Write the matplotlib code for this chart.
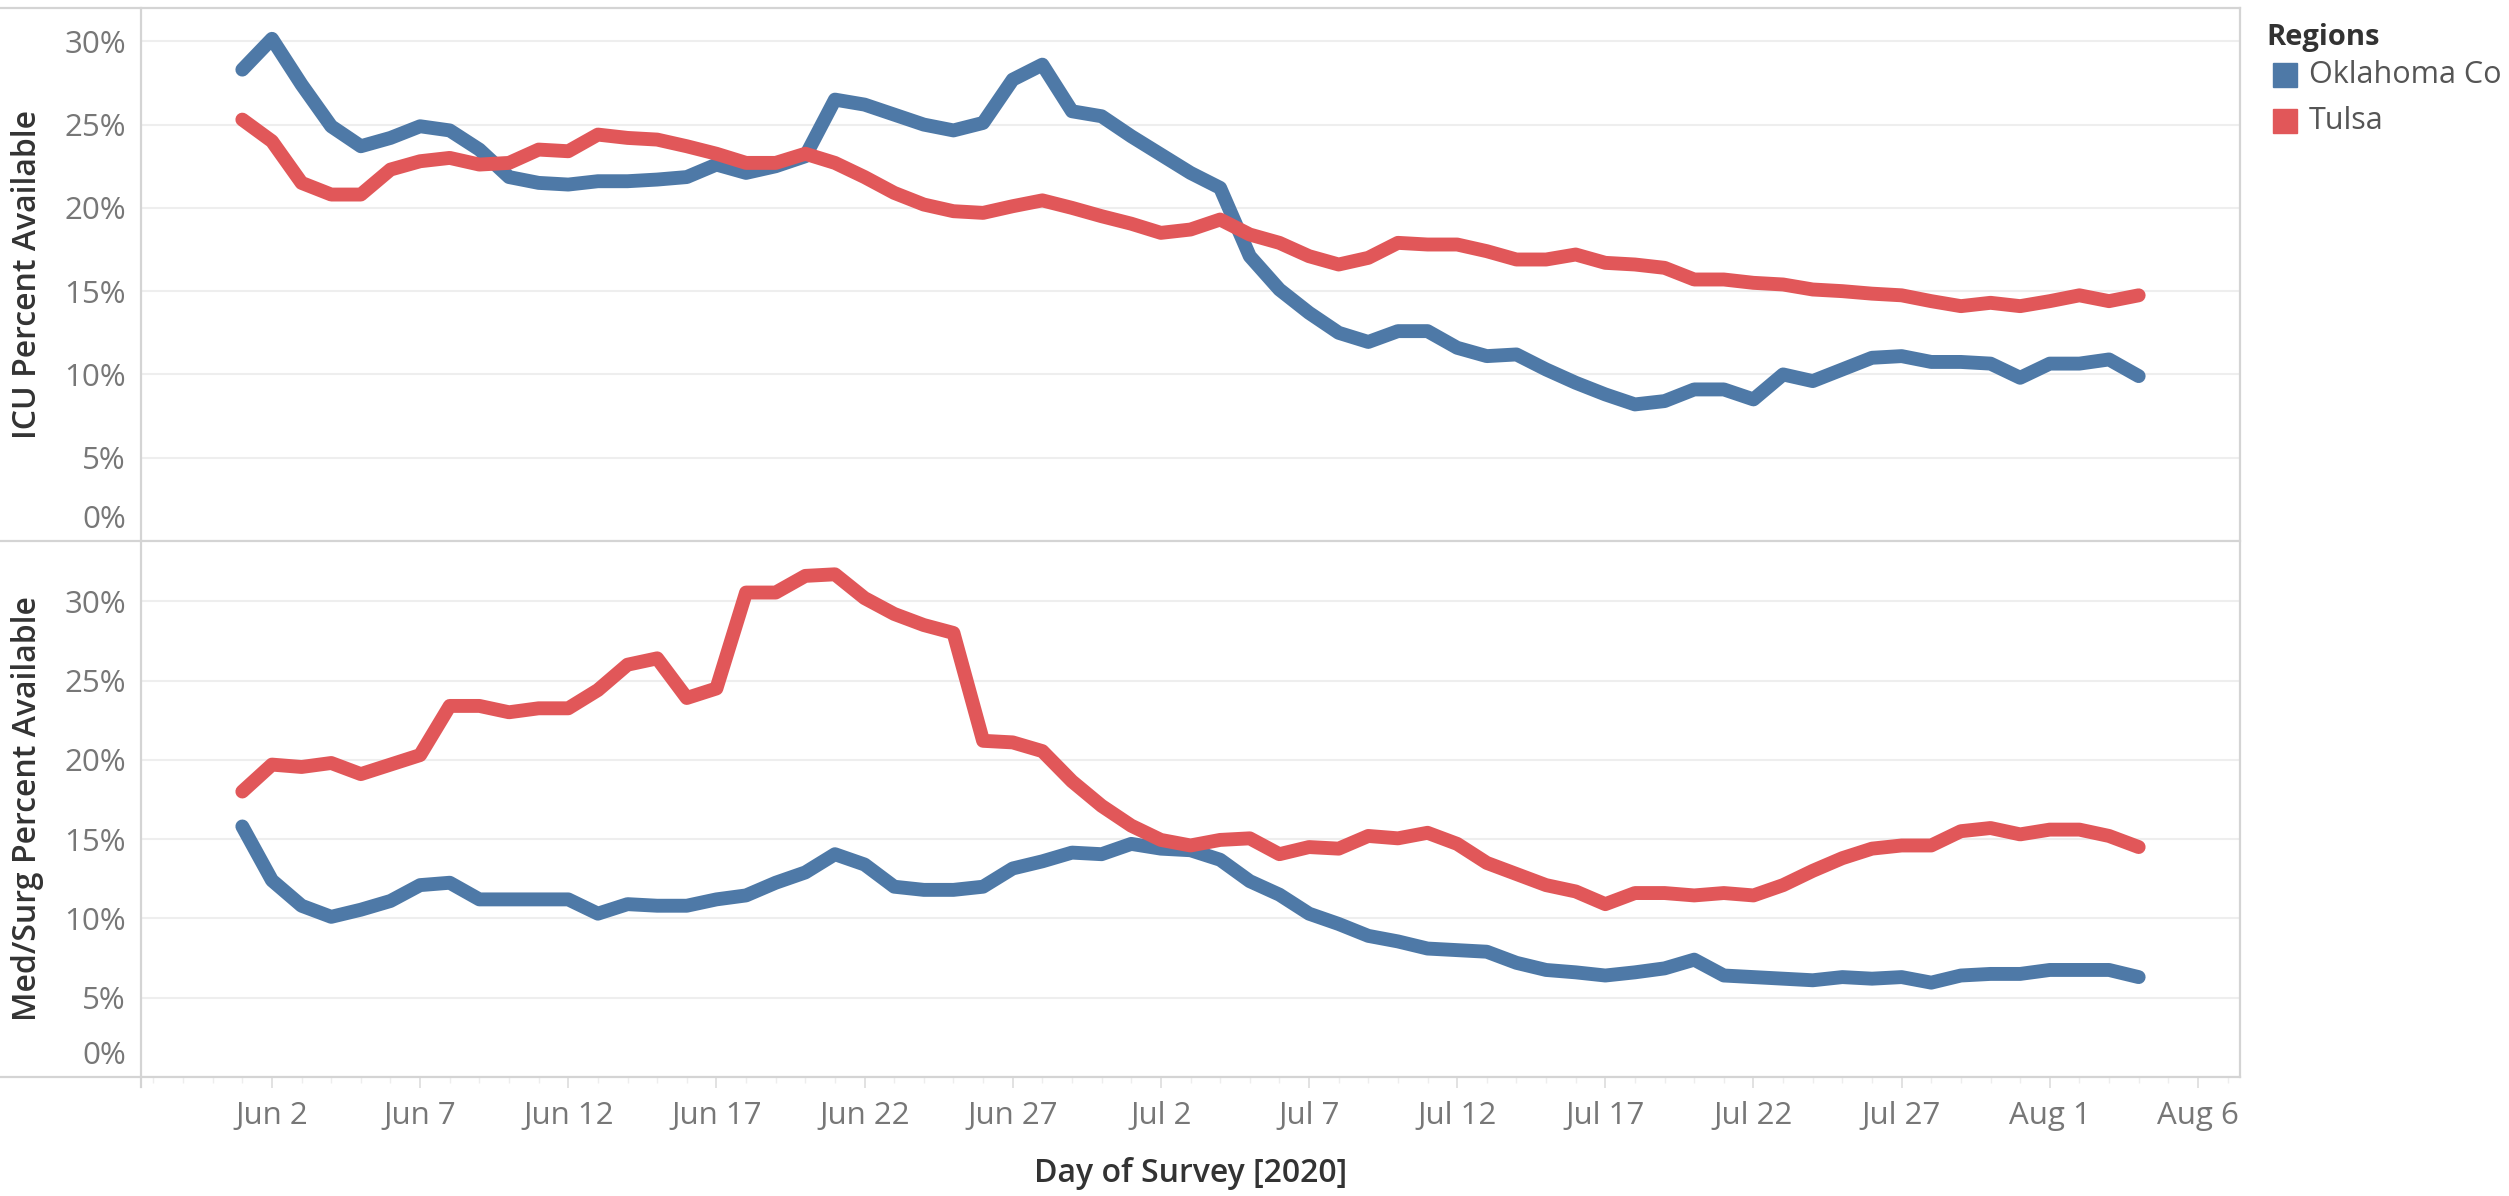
import numpy as np
import pandas as pd
import matplotlib
matplotlib.use("Agg")
import matplotlib.pyplot as plt
import matplotlib.dates as mdates
import matplotlib.transforms as mtransforms
from matplotlib.lines import Line2D
from matplotlib.patches import Rectangle
from matplotlib.ticker import FuncFormatter

plt.rcParams["font.family"] = ["Open Sans", "DejaVu Sans"]

# daily survey dates, Jun 1 - Aug 4 2020
days = pd.date_range("2020-06-01", "2020-08-04", freq="D")

regions = ["Oklahoma Co", "Tulsa"]

icu_okc = [28.3, 30.15, 27.4, 24.9, 23.7, 24.2, 24.9, 24.65, 23.5, 21.85,
           21.5, 21.4, 21.6, 21.6, 21.7, 21.85, 22.6, 22.1, 22.5, 23.1,
           26.5, 26.2, 25.6, 25.0, 24.65, 25.1, 27.7, 28.6, 25.8, 25.5,
           24.3, 23.2, 22.1, 21.2, 17.1, 15.1, 13.7, 12.5, 11.95, 12.6,
           12.6, 11.6, 11.1, 11.2, 10.3, 9.5, 8.8, 8.2, 8.4, 9.1,
           9.1, 8.5, 10.0, 9.6, 10.3, 11.0, 11.1, 10.75, 10.75, 10.65,
           9.8, 10.65, 10.65, 10.9, 9.9]
icu_tulsa = [25.3, 24.0, 21.5, 20.8, 20.8, 22.3, 22.8, 23.0, 22.6, 22.7,
             23.5, 23.4, 24.4, 24.2, 24.1, 23.7, 23.25, 22.7, 22.7, 23.25,
             22.7, 21.85, 20.9, 20.2, 19.8, 19.7, 20.1, 20.45, 20.0, 19.5,
             19.05, 18.5, 18.7, 19.3, 18.4, 17.9, 17.1, 16.6, 17.0, 17.9,
             17.8, 17.8, 17.4, 16.9, 16.9, 17.2, 16.7, 16.6, 16.4, 15.7,
             15.7, 15.5, 15.4, 15.1, 15.0, 14.85, 14.75, 14.4, 14.1, 14.3,
             14.1, 14.4, 14.75, 14.4, 14.75]
medsurg_okc = [15.8, 12.4, 10.8, 10.1, 10.55, 11.1, 12.1, 12.25, 11.2, 11.2,
               11.2, 11.2, 10.3, 10.9, 10.8, 10.8, 11.2, 11.45, 12.25, 12.9,
               14.05, 13.4, 12.0, 11.8, 11.8, 12.0, 13.15, 13.6, 14.15, 14.05,
               14.7, 14.4, 14.3, 13.7, 12.35, 11.5, 10.3, 9.65, 8.9, 8.55,
               8.1, 8.0, 7.9, 7.2, 6.75, 6.6, 6.4, 6.6, 6.85, 7.4,
               6.4, 6.3, 6.2, 6.1, 6.3, 6.2, 6.3, 5.95, 6.4, 6.5,
               6.5, 6.75, 6.75, 6.75, 6.3]
medsurg_tulsa = [18.0, 19.7, 19.55, 19.8, 19.1, 19.7, 20.3, 23.4, 23.4, 23.0,
                 23.25, 23.25, 24.4, 26.0, 26.4, 23.9, 24.5, 30.55, 30.55, 31.6,
                 31.7, 30.2, 29.2, 28.5, 28.0, 21.2, 21.1, 20.55, 18.65, 17.1,
                 15.85, 14.95, 14.6, 14.95, 15.05, 14.05, 14.5, 14.4, 15.2, 15.05,
                 15.4, 14.7, 13.5, 12.8, 12.1, 11.7, 10.9, 11.6, 11.6, 11.45,
                 11.6, 11.45, 12.1, 13.0, 13.8, 14.4, 14.6, 14.6, 15.5, 15.7,
                 15.3, 15.6, 15.6, 15.2, 14.5]

colors = ["#4e79a7", "#e15759"]
border = "#d4d4d4"
tick_grey = "#777777"
W, H = 2509, 1196

fig = plt.figure(figsize=(W / 100, H / 100), dpi=100)
left, right = 141 / W, 2240 / W
y_top, y_mid, y_bot = 1 - 8 / H, 1 - 541 / H, 1 - 1077 / H

ax1 = fig.add_axes([left, y_mid, right - left, y_top - y_mid])
ax2 = fig.add_axes([left, y_bot, right - left, y_mid - y_bot])

panels = [
    (ax1, [icu_okc, icu_tulsa], "ICU Percent Available", 32.0),
    (ax2, [medsurg_okc, medsurg_tulsa], "Med/Surg Percent Available", 33.8),
]

x0 = pd.Timestamp("2020-06-02") - pd.Timedelta(days=4.42)
x1 = pd.Timestamp("2020-06-02") + pd.Timedelta(days=66.42)

for ax, series, title, ymax in panels:
    for vals, c in zip(series, colors):
        ax.plot(days, vals, color=c, lw=10, solid_joinstyle="round",
                solid_capstyle="round", zorder=3)
    ax.set_xlim(x0, x1)
    ax.set_ylim(0, ymax)
    ax.set_yticks(range(0, 31, 5))
    ax.yaxis.set_major_formatter(FuncFormatter(lambda v, p: f"{v:.0f}%"))
    ax.yaxis.grid(True, color="#eeeeee", lw=1.5, zorder=0)
    ax.tick_params(axis="y", length=0, pad=11, labelsize=22.5, labelcolor=tick_grey)
    zero = ax.get_yticklabels()[0]
    zero.set_va("bottom")
    zero.set_transform(zero.get_transform() +
                       mtransforms.ScaledTranslation(0, 4 / 72, fig.dpi_scale_trans))
    for s in ax.spines.values():
        s.set_visible(False)
    yc = (ax.get_position().y0 + ax.get_position().y1) / 2
    fig.text(28 / W, yc, title, rotation=90, ha="center", va="center",
             fontsize=23, color="#333333", fontweight=600)

ax1.tick_params(axis="x", which="both", length=0, labelbottom=False)

major = pd.date_range("2020-06-02", "2020-08-06", freq="5D")
ax2.set_xticks(major)
ax2.xaxis.set_minor_locator(mdates.DayLocator())
ax2.xaxis.set_major_formatter(
    FuncFormatter(lambda v, p: f"{mdates.num2date(v):%b} {mdates.num2date(v).day}"))
ax2.tick_params(axis="x", which="major", length=8, width=1.2, color="#dddddd",
                pad=9, labelsize=22.5, labelcolor=tick_grey)
ax2.tick_params(axis="x", which="minor", length=4, width=1, color="#eeeeee")

# Tableau-style frame lines
for y in (y_top, y_mid, y_bot):
    fig.add_artist(Line2D([0, right], [y, y], color=border, lw=1.6))
fig.add_artist(Line2D([left, left], [y_top, y_bot - 10 / H], color=border, lw=1.6))
fig.add_artist(Line2D([right, right], [y_top, y_bot], color=border, lw=1.6))

fig.text((left + right) / 2, 1 - 1173 / H, "Day of Survey [2020]", ha="center",
         va="center", fontsize=23, color="#333333", fontweight=600)

# legend
fig.text(2266 / W, 1 - 45 / H, "Regions", ha="left", va="baseline",
         fontsize=21, color="#333333", fontweight="bold")
for i, (name, c) in enumerate(zip(regions, colors)):
    yc = 75 + i * 46
    fig.add_artist(Rectangle((2273 / W, 1 - (yc + 12) / H), 24 / W, 24 / H,
                             transform=fig.transFigure, color=c))
    fig.text(2309 / W, 1 - yc / H, name, ha="left", va="center",
             fontsize=22, color="#555555")

fig.savefig("out.png", dpi=100)
